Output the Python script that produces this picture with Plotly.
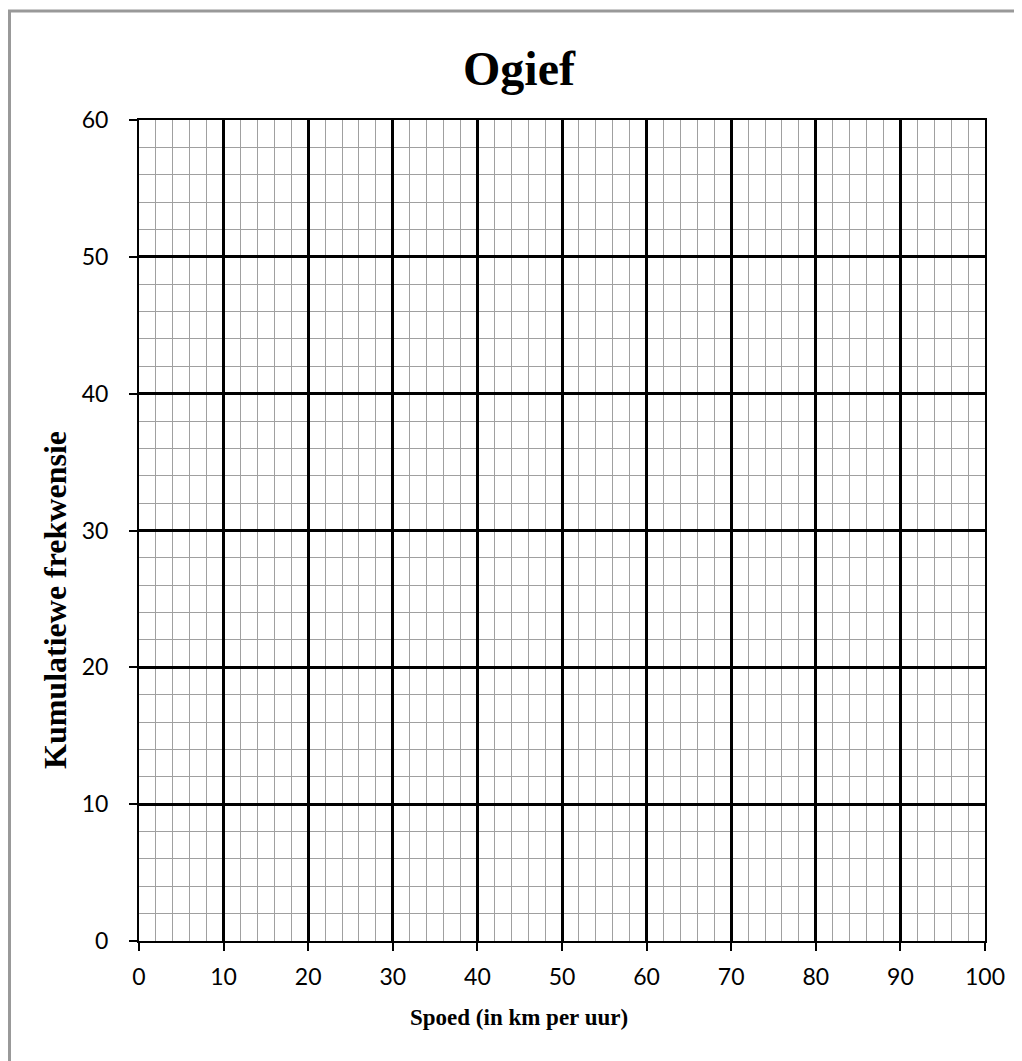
import plotly.graph_objects as go

title_text = "Ogief"
x_title = "Spoed (in km per uur)"
y_title = "Kumulatiewe frekwensie"
x_ticks = [0, 10, 20, 30, 40, 50, 60, 70, 80, 90, 100]
y_ticks = [0, 10, 20, 30, 40, 50, 60]
x_range = [0, 100]
y_range = [0, 60]

W, H = 1022, 1061
OFF = 8  # page body margin
L, R, T, B = 139 - OFF, 985 - OFF, 120 - OFF, 941 - OFF
pw, ph = R - L, B - T


def px_x(px):
    return (px - OFF - L) / pw


def px_y(py):
    return (B - (py - OFF)) / ph


fig = go.Figure()
fig.add_trace(go.Scatter(x=[x_range[0]], y=[y_range[0]], mode="markers",
                         marker=dict(opacity=0), showlegend=False, hoverinfo="skip"))

tickfont = dict(family="Lato, Carlito, sans-serif", size=23, color="black")
serif_bold = "Liberation Serif, Times New Roman, serif"

fig.update_layout(
    width=W, height=H,
    margin=dict(l=L, r=W - R, t=T, b=H - B, pad=0),
    paper_bgcolor="white", plot_bgcolor="white",
    title=dict(text="<b>" + title_text + "</b>", x=(519 - OFF) / W, xanchor="center",
               y=1 - (68 - OFF) / H, yanchor="middle",
               font=dict(family=serif_bold, size=48, color="black")),
    showlegend=False,
)
minor_style = dict(tickmode="linear", tick0=0, dtick=2, showgrid=True,
                   gridcolor="#a0a0a0", gridwidth=1, ticks="")
fig.update_xaxes(
    range=x_range, tickmode="array", tickvals=x_ticks, ticktext=[str(v) for v in x_ticks],
    showgrid=True, gridcolor="black", gridwidth=2.5,
    minor=minor_style,
    showline=True, linecolor="black", linewidth=2, mirror=True,
    ticks="outside", ticklen=8, tickwidth=2, tickcolor="black",
    tickfont=tickfont, ticklabelstandoff=6, zeroline=False,
)
fig.update_yaxes(
    range=y_range, tickmode="array", tickvals=y_ticks, ticktext=[str(v) for v in y_ticks],
    showgrid=True, gridcolor="black", gridwidth=2.5,
    minor=minor_style,
    showline=True, linecolor="black", linewidth=2, mirror=True,
    ticks="outside", ticklen=8, tickwidth=2, tickcolor="black",
    tickfont=tickfont, ticklabelstandoff=16, zeroline=False,
)

# axis titles as annotations (placed as in the reference)
fig.add_annotation(text="<b>" + x_title + "</b>", xref="paper", yref="paper",
                   x=px_x(519), y=px_y(1017), xanchor="center", yanchor="middle",
                   showarrow=False, font=dict(family=serif_bold, size=23, color="black"))
fig.add_annotation(text="<b>" + y_title + "</b>", xref="paper", yref="paper",
                   x=px_x(55), y=px_y(600), xanchor="center", yanchor="middle",
                   textangle=-90, showarrow=False,
                   font=dict(family=serif_bold, size=32, color="black"))

# outer grey frame
fig.add_shape(type="rect", xref="paper", yref="paper", layer="above",
              x0=px_x(9.5), x1=px_x(W + 30),
              y0=px_y(H + 30), y1=px_y(11),
              line=dict(color="#999999", width=3), fillcolor="rgba(0,0,0,0)")

fig.write_html("out.html")
